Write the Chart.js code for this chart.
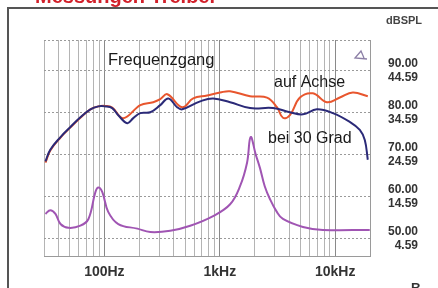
<!DOCTYPE html>
<html>
<head>
<meta charset="utf-8">
<script src="https://cdn.jsdelivr.net/npm/chart.js@4.4.1/dist/chart.umd.min.js"></script>
<style>
  html, body { margin: 0; padding: 0; background: #fff; }
  #wrap { width: 438px; height: 288px; position: relative; }
</style>
</head>
<body>
<div id="wrap"><canvas id="fgChart"></canvas></div>
<script>
// Frequenzgang data (Hz / dB SPL)
const freqAxis = [30.9, 34, 41.7, 50.8, 62, 75.7, 88.7, 102, 117, 132, 158, 178, 205, 250, 305, 358, 427, 472, 676, 875, 1228, 1828, 2890, 4053, 5250, 6934, 9530, 13370, 16320, 18030, 19140];
const beiDreissig = [68.4, 71.2, 74.2, 76.6, 78.9, 80.8, 81.5, 81.5, 81.1, 79.4, 77.5, 78.7, 79.9, 80.1, 81.8, 83.4, 81.3, 80.8, 82.7, 83.4, 82.5, 81.1, 81.1, 80.1, 79.6, 80.8, 79.9, 77.8, 75.9, 73.5, 68.8];

const achseFreq = [30.9, 34, 41.7, 50.8, 62, 75.7, 88.7, 102, 117, 146, 205, 265, 305, 351, 472, 588, 777, 1006, 1228, 1828, 2563, 3126, 3524, 4053, 4943, 6401, 8457, 10960, 14190, 19140];
const aufAchse = [68.1, 71.0, 74.1, 76.5, 78.8, 80.8, 81.5, 81.6, 81.2, 78.7, 81.8, 82.5, 83.2, 84.4, 81.3, 83.4, 84.1, 84.8, 85.1, 83.9, 83.6, 81.3, 78.8, 79.4, 83.6, 84.6, 82.5, 83.6, 84.8, 83.9];

const impFreq = [30.9, 34, 37.7, 41.7, 48.9, 62, 72.8, 83.6, 88.7, 96, 108, 132, 193, 250, 372, 554, 875, 1228, 1497, 1722, 1850, 2050, 2229, 2450, 2722, 3100, 3524, 5250, 7812, 19900];
const impedanz = [55.9, 56.8, 55.9, 53.5, 52.6, 53.1, 54.7, 61.1, 62.2, 61.1, 56.4, 53.5, 52.4, 51.6, 51.9, 53.1, 55.4, 58.2, 62.5, 68.1, 74.2, 70.0, 66.8, 62.5, 59.4, 56.5, 54.7, 52.8, 52.1, 52.1];

const xGridFreqs = [30, 40, 50, 60, 70, 80, 90, 100, 200, 300, 400, 500, 600, 700, 800, 900, 1000, 2000, 3000, 4000, 5000, 6000, 7000, 8000, 9000, 10000, 20000];
const xTickLabels = { 100: '100Hz', 1000: '1kHz', 10000: '10kHz' };
const yTicks = [50, 60, 70, 80, 90];
const yTickLabels = [['50.00', '4.59'], ['60.00', '14.59'], ['70.00', '24.59'], ['80.00', '34.59'], ['90.00', '44.59']];

function toPoints(xs, ys) {
    return xs.map((f, i) => ({ x: f, y: ys[i] }));
}

// frame, red heading, annotations
const decorations = {
    id: 'decorations',
    beforeDraw(chart) {
        const ctx = chart.ctx;
        ctx.save();
        ctx.fillStyle = '#fff';
        ctx.fillRect(0, 0, chart.width, chart.height);
        ctx.fillStyle = '#d1202a';
        ctx.font = 'bold 20px "Liberation Sans", Arial, sans-serif';
        ctx.textBaseline = 'alphabetic';
        ctx.fillText('Messungen Treiber', 35, 2.5);
        ctx.strokeStyle = '#555';
        ctx.lineWidth = 2;
        ctx.beginPath();
        ctx.moveTo(8, chart.height);
        ctx.lineTo(8, 8);
        ctx.lineTo(chart.width, 8);
        ctx.stroke();
        ctx.restore();
    },
    afterDraw(chart) {
        const ctx = chart.ctx;
        ctx.save();
        ctx.fillStyle = '#1a1a1a';
        ctx.font = '16.5px "Liberation Sans", Arial, sans-serif';
        ctx.fillText('Frequenzgang', 108, 65);
        ctx.font = '16px "Liberation Sans", Arial, sans-serif';
        ctx.fillText('auf Achse', 274, 87);
        ctx.fillText('bei 30 Grad', 268, 143);
        ctx.fillStyle = '#444';
        ctx.font = 'bold 11px "Liberation Sans", Arial, sans-serif';
        ctx.fillText('dBSPL', 386, 24);
        ctx.fillStyle = '#333';
        ctx.font = 'bold 13px "Liberation Sans", Arial, sans-serif';
        ctx.fillText('R', 411, 292);
        // small marker top right
        ctx.strokeStyle = '#8c7fa6';
        ctx.lineWidth = 1.3;
        ctx.beginPath();
        ctx.moveTo(367, 59);
        ctx.lineTo(355, 58);
        ctx.lineTo(361, 51);
        ctx.lineTo(364, 58);
        ctx.stroke();
        ctx.restore();
    }
};

const ctx = document.getElementById('fgChart').getContext('2d');

new Chart(ctx, {
    type: 'line',
    data: {
        datasets: [
            {
                label: 'bei 30 Grad',
                data: toPoints(freqAxis, beiDreissig),
                borderColor: '#2b2a78',
                borderWidth: 2,
                pointRadius: 0,
                tension: 0.4,
                fill: false
            },
            {
                label: 'auf Achse',
                data: toPoints(achseFreq, aufAchse),
                borderColor: '#e8562e',
                borderWidth: 2,
                pointRadius: 0,
                tension: 0.4,
                fill: false
            },
            {
                label: 'Impedanz',
                data: toPoints(impFreq, impedanz),
                borderColor: '#a055b3',
                borderWidth: 2,
                pointRadius: 0,
                tension: 0.4,
                fill: false
            }
        ]
    },
    options: {
        responsive: true,
        maintainAspectRatio: false,
        animation: false,
        layout: { padding: { left: 44, top: 40, right: 20, bottom: 0 } },
        plugins: { legend: { display: false }, tooltip: { enabled: false } },
        scales: {
            x: {
                type: 'logarithmic',
                min: 30,
                max: 20000,
                afterBuildTicks: (axis) => { axis.ticks = xGridFreqs.map(v => ({ value: v })); },
                afterFit: (axis) => { axis.height = 30; },
                ticks: {
                    autoSkip: false,
                    maxRotation: 0,
                    padding: 7,
                    color: '#333',
                    font: { family: '"Liberation Sans", Arial, sans-serif', size: 14, weight: 'bold' },
                    callback: (v) => xTickLabels[v] || ''
                },
                grid: {
                    drawTicks: false,
                    color: (c) => (c.tick && xTickLabels[c.tick.value]) ? '#8a8a8a' : '#b4b4b4',
                    lineWidth: 1
                },
                border: { color: '#9a9a9a', width: 1 }
            },
            y: {
                position: 'right',
                min: 45.7,
                max: 97.3,
                afterBuildTicks: (axis) => { axis.ticks = yTicks.concat([97.3]).map(v => ({ value: v })); },
                afterFit: (axis) => { axis.width = 48; },
                ticks: {
                    padding: 18,
                    crossAlign: 'far',
                    color: '#333',
                    font: { family: '"Liberation Sans", Arial, sans-serif', size: 12, weight: 'bold', lineHeight: 1.1 },
                    callback: (v) => {
                        const i = yTicks.indexOf(v);
                        return i >= 0 ? yTickLabels[i] : '';
                    }
                },
                grid: { drawTicks: false, color: '#9a9a9a', lineWidth: 1 },
                border: { color: '#9a9a9a', width: 1, dash: [2, 2] }
            }
        }
    },
    plugins: [decorations]
});
</script>
</body>
</html>
